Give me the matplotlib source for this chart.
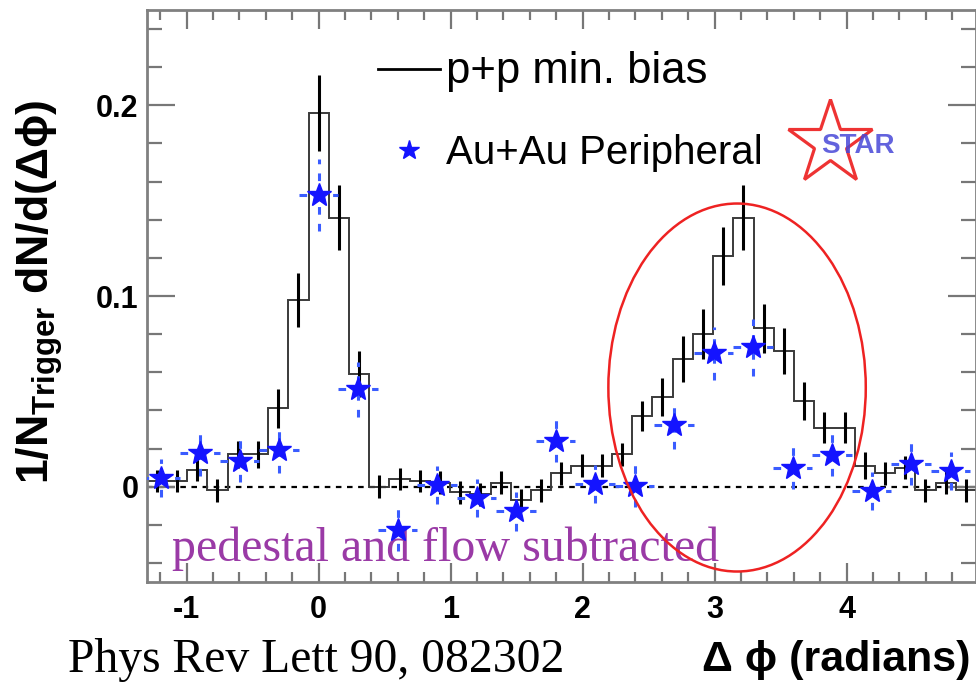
import numpy as np
import matplotlib
matplotlib.use("Agg")
from matplotlib import pyplot as plt
from matplotlib.patches import Ellipse
from matplotlib.lines import Line2D
from matplotlib.ticker import MultipleLocator, FuncFormatter

plt.rcParams['font.family'] = ['Liberation Sans', 'DejaVu Sans']
plt.rcParams['mathtext.fontset'] = 'custom'
plt.rcParams['mathtext.rm'] = 'Liberation Sans'
plt.rcParams['mathtext.bf'] = 'Liberation Sans:bold'
plt.rcParams['axes.unicode_minus'] = False

# p+p min. bias histogram (bin centres in radians)
pp_x = [-1.226, -1.073, -0.919, -0.766, -0.613, -0.460, -0.306, -0.153, 0.000,
        0.153, 0.306, 0.460, 0.613, 0.766, 0.919, 1.073, 1.226, 1.379, 1.532,
        1.686, 1.839, 1.992, 2.145, 2.299, 2.452, 2.605, 2.758, 2.912, 3.065,
        3.218, 3.371, 3.524, 3.678, 3.831, 3.984, 4.137, 4.291, 4.444, 4.597,
        4.750, 4.904]
pp_y = [0.003, 0.003, 0.009, -0.002, 0.017, 0.017, 0.041, 0.098, 0.196,
        0.141, 0.059, 0.000, 0.004, 0.003, 0.002, -0.003, -0.004, 0.002, -0.007,
        -0.002, 0.007, 0.011, 0.011, 0.017, 0.037, 0.047, 0.067, 0.080, 0.121,
        0.141, 0.083, 0.071, 0.045, 0.031, 0.031, 0.011, 0.007, 0.010, -0.002,
        0.002, -0.002]
pp_err = [0.006, 0.006, 0.006, 0.006, 0.007, 0.007, 0.010, 0.014, 0.020,
          0.017, 0.012, 0.006, 0.006, 0.006, 0.006, 0.006, 0.006, 0.006, 0.006,
          0.006, 0.006, 0.006, 0.006, 0.006, 0.008, 0.010, 0.012, 0.013, 0.015,
          0.017, 0.013, 0.012, 0.010, 0.008, 0.008, 0.007, 0.006, 0.006, 0.006,
          0.006, 0.006]

# Au+Au peripheral points
aa_x = [-1.197, -0.898, -0.598, -0.299, 0.0, 0.299, 0.598, 0.898, 1.197, 1.496,
        1.795, 2.094, 2.394, 2.693, 2.992, 3.291, 3.590, 3.890, 4.189, 4.488, 4.787]
aa_y = [0.0047, 0.0178, 0.0133, 0.019, 0.153, 0.051, -0.0225, 0.001, -0.006, -0.013,
        0.024, 0.0016, 0.0005, 0.0325, 0.070, 0.073, 0.0099, 0.0168, -0.0024, 0.012, 0.008]
aa_err = [0.010, 0.012, 0.011, 0.012, 0.019, 0.0145, 0.011, 0.010, 0.010, 0.010,
          0.011, 0.010, 0.011, 0.0125, 0.014, 0.015, 0.011, 0.011, 0.010, 0.011, 0.010]
aa_halfwidth = 0.15

fig = plt.figure(figsize=(9.76, 6.89), dpi=100)
ax = fig.add_axes([147/976, 1-582/689, 829/976, 572/689])

# bin edges from centres
pp_x = np.array(pp_x)
w = pp_x[1] - pp_x[0]
edges = np.append(pp_x - w/2, pp_x[-1] + w/2)

ax.axhline(0, color='k', lw=1.6, ls=(0, (2.5, 2.5)), zorder=1)
ax.stairs(pp_y, edges, baseline=None, color='#3a3a3a', lw=1.4, zorder=2)
ax.errorbar(pp_x, pp_y, yerr=pp_err, fmt='none', ecolor='k', elinewidth=2.2, zorder=3)

blue = '#1414ff'
eb = ax.errorbar(aa_x, aa_y, yerr=aa_err, xerr=aa_halfwidth, fmt='*', color=blue,
                 markersize=18, ecolor='#3a5cff', elinewidth=2.2, zorder=4)
for lc in eb[2]:
    lc.set_linestyle((0, (2.5, 3)))

ax.add_patch(Ellipse((3.17, 0.052), 1.95, 0.193, fill=False, edgecolor='#ee2222', lw=1.8, zorder=5))

ax.set_xlim(-1.3, 4.98)
ax.set_ylim(-0.05, 0.25)
ax.xaxis.set_major_locator(MultipleLocator(1))
ax.xaxis.set_minor_locator(MultipleLocator(0.2))
ax.yaxis.set_major_locator(MultipleLocator(0.1))
ax.yaxis.set_minor_locator(MultipleLocator(0.02))
ax.yaxis.set_major_formatter(FuncFormatter(lambda v, p: '%g' % round(v, 3)))
ax.tick_params(which='both', direction='in', top=True, right=True, color='#777777', width=1.6)
ax.tick_params(axis='x', which='major', length=14, pad=9)
ax.tick_params(axis='x', which='minor', length=7)
ax.tick_params(axis='y', which='major', length=20, pad=6)
ax.tick_params(axis='y', which='minor', length=11)
for lab in ax.get_xticklabels() + ax.get_yticklabels():
    lab.set_fontsize(22)
    lab.set_fontweight('bold')
for s in ax.spines.values():
    s.set_color('#808080')
    s.set_linewidth(2)

leg_handles = [Line2D([], [], color='k', lw=2),
               Line2D([], [], marker='*', color=blue, ls='none', markersize=15)]
leg = ax.legend(leg_handles, ['p+p min. bias', 'Au+Au Peripheral'], loc='upper left',
                bbox_to_anchor=((378-147)/829, (582-51)/572), frameon=False, fontsize=29,
                handlelength=1.55, handletextpad=0.15, labelspacing=1.05,
                borderpad=0, borderaxespad=0)
leg.get_texts()[0].set_fontsize(31.5)

# STAR logo
ax.plot([(830-147)/829], [(582-143)/572], marker='*', markersize=64, mfc='none',
        mec='#ee3333', mew=2.3, transform=ax.transAxes, clip_on=False)
ax.text((858-147)/829, (582-146)/572, 'STAR', transform=ax.transAxes, fontsize=20,
        fontweight='bold', color='#4848d8', alpha=0.85, ha='center', va='center')

ax.text((172-147)/829, (582-549)/572, 'pedestal and flow subtracted', transform=ax.transAxes,
        fontsize=34.5, color='#9a3aa6', family='Liberation Serif', va='center', ha='left')

fig.text(40/976, 1-292/689, r'$\mathbf{1/N_{Trigger}}$ dN/d(Δϕ)', rotation=90,
         fontsize=32, fontweight='bold', ha='center', va='center')
fig.text(970/976, 1-660/689, 'Δ ϕ (radians)', fontsize=31, fontweight='bold',
         ha='right', va='center')
fig.text(68/976, 1-660/689, 'Phys Rev Lett 90, 082302', fontsize=34.3,
         family='Liberation Serif', ha='left', va='center')

fig.savefig('out.png', dpi=100)
